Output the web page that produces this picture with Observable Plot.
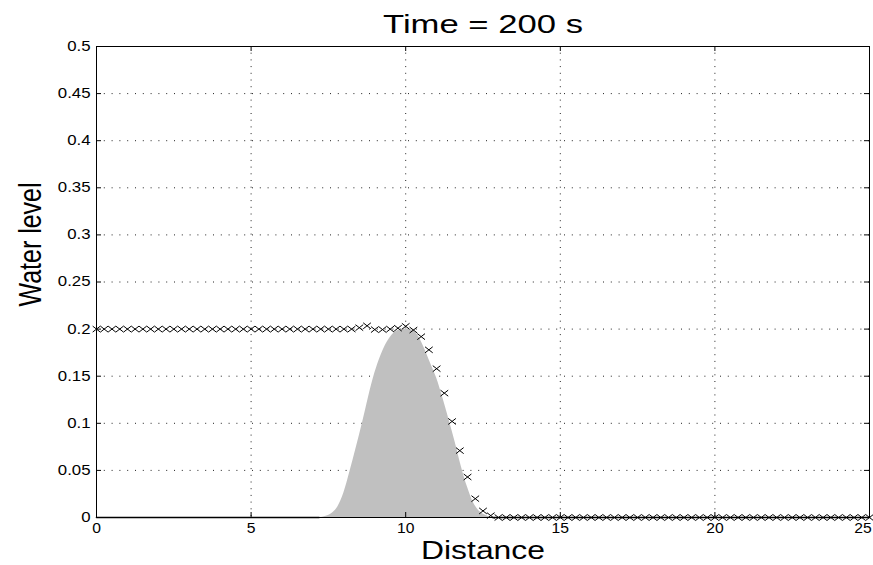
<!DOCTYPE html>
<html>
<head>
<meta charset="utf-8">
<script src="https://cdn.jsdelivr.net/npm/d3@7"></script>
<script src="https://cdn.jsdelivr.net/npm/@observablehq/plot@0.6"></script>
<style>
html, body { margin: 0; padding: 0; background: #fff; color: #000; }
#chart { width: 873px; height: 565px; overflow: hidden; }
</style>
</head>
<body>
<div id="chart"></div>
<script>
// ---- text ----
const title = "Time = 200 s";
const xLabel = "Distance";
const yLabel = "Water level";

// ---- ticks ----
const xTicks = [0, 5, 10, 15, 20, 25];
const xTickLabels = ["0", "5", "10", "15", "20", "25"];
const yTicks = [0, 0.05, 0.1, 0.15, 0.2, 0.25, 0.3, 0.35, 0.4, 0.45, 0.5];
const yTickLabels = ["0", "0.05", "0.1", "0.15", "0.2", "0.25", "0.3", "0.35", "0.4", "0.45", "0.5"];

// ---- water level (x markers) ----
const levelX = [
  0, 0.25, 0.5, 0.75, 1, 1.25, 1.5, 1.75, 2, 2.25,
  2.5, 2.75, 3, 3.25, 3.5, 3.75, 4, 4.25, 4.5, 4.75,
  5, 5.25, 5.5, 5.75, 6, 6.25, 6.5, 6.75, 7, 7.25,
  7.5, 7.75, 8, 8.25,
  8.5, 8.75, 9, 9.25, 9.5, 9.75, 10, 10.25, 10.5, 10.75,
  11, 11.25, 11.5, 11.75, 12, 12.25, 12.5, 12.75,
  13, 13.25, 13.5, 13.75, 14, 14.25, 14.5, 14.75, 15, 15.25,
  15.5, 15.75, 16, 16.25, 16.5, 16.75, 17, 17.25, 17.5, 17.75,
  18, 18.25, 18.5, 18.75, 19, 19.25, 19.5, 19.75, 20, 20.25,
  20.5, 20.75, 21, 21.25, 21.5, 21.75, 22, 22.25, 22.5, 22.75,
  23, 23.25, 23.5, 23.75, 24, 24.25, 24.5, 24.75, 25
];
const levelY = [
  0.2, 0.2, 0.2, 0.2, 0.2, 0.2, 0.2, 0.2, 0.2, 0.2,
  0.2, 0.2, 0.2, 0.2, 0.2, 0.2, 0.2, 0.2, 0.2, 0.2,
  0.2, 0.2, 0.2, 0.2, 0.2, 0.2, 0.2, 0.2, 0.2, 0.2,
  0.2, 0.2, 0.2, 0.2,
  0.2015, 0.2035, 0.1995, 0.1995, 0.2, 0.201, 0.203, 0.199, 0.192, 0.178,
  0.158, 0.132, 0.102, 0.071, 0.043, 0.020, 0.007, 0.002,
  0, 0, 0, 0, 0, 0, 0, 0, 0, 0,
  0, 0, 0, 0, 0, 0, 0, 0, 0, 0,
  0, 0, 0, 0, 0, 0, 0, 0, 0, 0,
  0, 0, 0, 0, 0, 0, 0, 0, 0, 0,
  0, 0, 0, 0, 0, 0, 0, 0, 0
];

// ---- bed (grey bump) ----
const bedX = [0, 7.0, 7.2, 7.4, 7.6, 7.8, 8.0, 8.2, 8.4, 8.6, 8.8, 9.0, 9.2, 9.4, 9.6, 9.8,
  10.0, 10.2, 10.4, 10.6, 10.8, 11.0, 11.2, 11.4, 11.6, 11.8, 12.0, 12.2, 12.4, 12.6, 12.8, 13.0, 25];
const bedZ = [0, 0, 0, 0.001, 0.004, 0.011, 0.026, 0.049, 0.074, 0.100, 0.128, 0.153, 0.172, 0.186, 0.195, 0.199,
  0.200, 0.199, 0.193, 0.180, 0.164, 0.148, 0.127, 0.104, 0.080, 0.054, 0.032, 0.015, 0.006, 0.002, 0, 0, 0];

// ---- layout ----
const W = 873, H = 565, mL = 96, mR = 4, mT = 46, mB = 48;
const pw = W - mL - mR, ph = H - mT - mB;
const tickLen = 5;
const font = "'Liberation Sans', Arial, Helvetica, sans-serif";

const level = levelX.map((x, i) => ({x, y: levelY[i]}));
const bed = bedX.map((x, i) => ({x, z: bedZ[i]}));

// stretched "x" marker (the reference image is horizontally stretched)
const stretchedTimes = {
  draw(ctx, size) {
    const r = Math.sqrt(size / Math.PI);
    const w = r * 1.28;
    ctx.moveTo(-w, -r); ctx.lineTo(w, r);
    ctx.moveTo(-w, r); ctx.lineTo(w, -r);
  }
};

const plot = Plot.plot({
  width: W, height: H,
  marginLeft: mL, marginRight: mR, marginTop: mT, marginBottom: mB,
  style: {fontFamily: font, background: "#fff", color: "#000", overflow: "visible"},
  x: {domain: [0, 25]},
  y: {domain: [0, 0.5]},
  marks: [
    // dotted grid
    Plot.ruleX(xTicks.slice(1, -1), {stroke: "#222", strokeWidth: 1, strokeDasharray: "1,5.7"}),
    Plot.ruleY(yTicks.slice(1, -1), {stroke: "#222", strokeWidth: 1, strokeDasharray: "1,6.8"}),
    // bed
    Plot.areaY(bed, {x: "x", y: "z", fill: "#c0c0c0", curve: "monotone-x"}),
    Plot.lineY(bed, {x: "x", y: d => d.z === 0 ? 0 : NaN, stroke: "#000", strokeWidth: 1.6}),
    // frame
    Plot.frame({stroke: "#000", strokeWidth: 1}),
    // inward ticks on all four sides
    Plot.tickX(xTicks, {x: d => d, insetTop: ph - tickLen, stroke: "#000"}),
    Plot.tickX(xTicks, {x: d => d, insetBottom: ph - tickLen, stroke: "#000"}),
    Plot.tickY(yTicks, {y: d => d, insetRight: pw - tickLen, stroke: "#000"}),
    Plot.tickY(yTicks, {y: d => d, insetLeft: pw - tickLen, stroke: "#000"}),
    // axes labels
    Plot.axisX(xTicks, {anchor: "bottom", tickSize: 0, tickPadding: 6, fontSize: 14,
      tickFormat: (d) => xTickLabels[xTicks.indexOf(d)], label: null}),
    Plot.axisY(yTicks, {anchor: "left", tickSize: 0, tickPadding: 6, fontSize: 14,
      tickFormat: (d) => yTickLabels[yTicks.indexOf(d)], label: null}),
    // water level markers
    Plot.dot(level, {x: "x", y: "y", symbol: stretchedTimes, r: 3, fill: "none", stroke: "#000", strokeWidth: 1}),
    // title & axis titles
    Plot.text([title], {text: d => d, frameAnchor: "top", dy: -14, lineAnchor: "bottom", fontSize: 25, fill: "#000"}),
    Plot.text([xLabel], {text: d => d, frameAnchor: "bottom", dy: 41, lineAnchor: "bottom", fontSize: 25, fill: "#000"}),
    Plot.text([yLabel], {text: d => d, frameAnchor: "left", dx: -66, dy: 24.5, rotate: -90, fontSize: 25, fill: "#000"})
  ]
});

document.getElementById("chart").append(plot);

// emulate the horizontal stretch of the reference's text
const widths = {[title]: 200, [xLabel]: 124};
d3.select(plot).selectAll("text").each(function () {
  const t = this.textContent;
  if (t === yLabel) {
    const tr = this.getAttribute("transform");
    if (tr) this.setAttribute("transform", tr.replace("rotate", "scale(1.28,1) rotate"));
    return;
  }
  let target = widths[t];
  if (target == null) {
    const g = this.parentNode;
    const label = g && g.getAttribute ? (g.getAttribute("aria-label") || "") : "";
    const k = label.startsWith("y-axis") ? 1.2 : 1.12;
    target = this.getComputedTextLength() * k;
  }
  this.setAttribute("textLength", target);
  this.setAttribute("lengthAdjust", "spacingAndGlyphs");
  // keep labels inside the window (the last x tick label sits at the right edge)
  const svgBox = plot.getBoundingClientRect();
  const bb = this.getBoundingClientRect();
  const over = bb.right - (svgBox.left + W - 1);
  if (over > 0) this.setAttribute("dx", -over);
});
</script>
</body>
</html>
